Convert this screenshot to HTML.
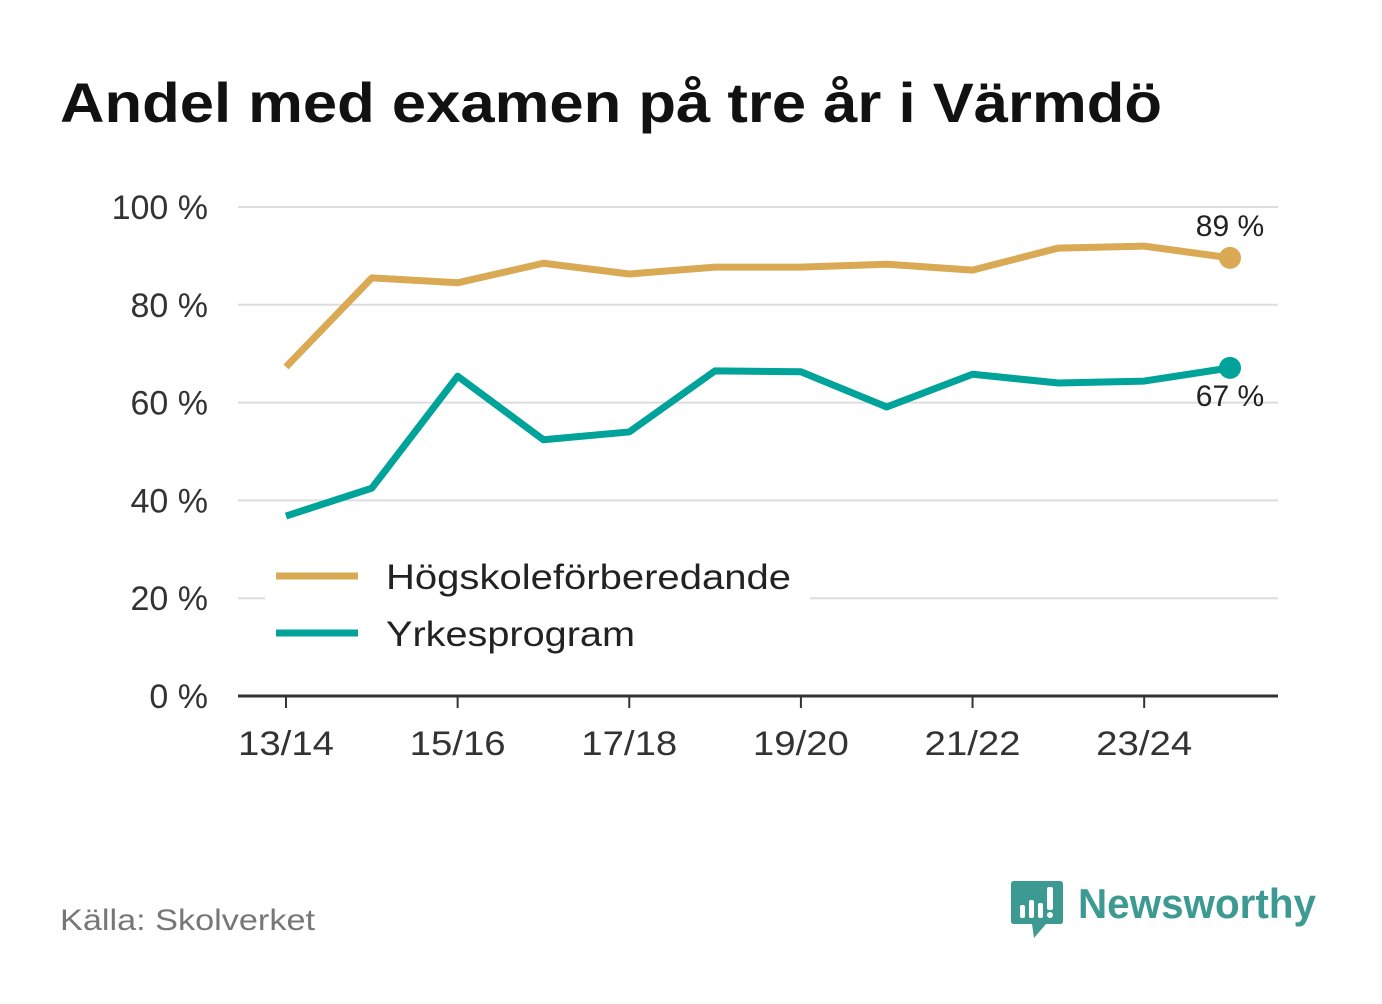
<!DOCTYPE html>
<html><head><meta charset="utf-8"><style>
body{margin:0;width:1382px;height:999px;background:#fff;font-family:"Liberation Sans","DejaVu Sans",sans-serif;overflow:hidden}
</style></head><body>
<svg id="c" width="1382" height="999" xmlns="http://www.w3.org/2000/svg">
<text x="60" y="122" font-size="56" font-weight="bold" fill="#111" textLength="1102" lengthAdjust="spacingAndGlyphs">Andel med examen på tre år i Värmdö</text>
<g id="grid"></g><g id="lines"></g>
<g>
<rect x="265" y="550" width="545" height="110" fill="#fff"/>
<line x1="276" y1="576" x2="358" y2="576" stroke="#d9a954" stroke-width="7"/>
<text x="386" y="589" font-size="35" fill="#222" textLength="405" lengthAdjust="spacingAndGlyphs">Högskoleförberedande</text>
<line x1="276" y1="633" x2="358" y2="633" stroke="#00a399" stroke-width="7"/>
<text x="386" y="646" font-size="35" fill="#222" textLength="249" lengthAdjust="spacingAndGlyphs">Yrkesprogram</text>
</g>
<text x="60" y="930" font-size="30" fill="#777" textLength="255" lengthAdjust="spacingAndGlyphs">Källa: Skolverket</text>
<g>
<path d="M1014 881 h46 q3 0 3 3 v37 q0 3 -3 3 h-14 l-12 14 l-2 -14 h-18 q-3 0 -3 -3 v-37 q0 -3 3 -3z" fill="#3d9a92"/>
<rect x="1020" y="905" width="5" height="13" rx="2" fill="#fff"/><rect x="1029" y="900" width="5" height="18" rx="2" fill="#fff"/><rect x="1038" y="903" width="5" height="15" rx="2" fill="#fff"/><rect x="1047" y="887" width="6" height="23" rx="2" fill="#fff"/><circle cx="1050" cy="915" r="3" fill="#fff"/>
<text x="1078" y="918" font-size="42" font-weight="bold" fill="#3d9a92" textLength="238" lengthAdjust="spacingAndGlyphs">Newsworthy</text>
</g>
</svg>
<script>
const categories=["13/14","14/15","15/16","16/17","17/18","18/19","19/20","20/21","21/22","22/23","23/24","24/25"];
const hogskole=[67.3,85.5,84.5,88.5,86.3,87.7,87.7,88.3,87.1,91.6,92.0,89.6];
const yrkes=[36.8,42.5,65.4,52.4,54.0,66.5,66.3,59.1,65.8,64.0,64.4,67.1];
const yTicks=[0,20,40,60,80,100];
const xTickLabels=["13/14","15/16","17/18","19/20","21/22","23/24"];
const endLabels=["89 %","67 %"];
const NS="http://www.w3.org/2000/svg";
const x=i=>286+i*(1230-286)/(categories.length-1);
const y=v=>696-v*4.89;
function mk(tag,attrs,parent){const e=document.createElementNS(NS,tag);for(const k in attrs)e.setAttribute(k,attrs[k]);parent.appendChild(e);return e;}
const grid=document.getElementById('grid'),lines=document.getElementById('lines');
yTicks.forEach(t=>{
  if(t>0){const l=mk('line',{x1:238,x2:1278,y1:y(t),y2:y(t),stroke:'#ddd','stroke-width':2},grid);
  
  }
  const tx=mk('text',{x:208,y:y(t)+12,'font-size':34,fill:'#333','text-anchor':'end'},grid);tx.textContent=t+' %';
  
  
});
const ax=mk('line',{x1:238,x2:1278,y1:696,y2:696,stroke:'#333','stroke-width':3},grid);


xTickLabels.forEach(lab=>{const i=categories.indexOf(lab);
  const tk=mk('line',{x1:x(i),x2:x(i),y1:696,y2:708,stroke:'#333','stroke-width':2},grid);
  
  
  const tx=mk('text',{x:x(i),y:755,'font-size':34,fill:'#333','text-anchor':'middle',textLength:96,lengthAdjust:'spacingAndGlyphs'},grid);tx.textContent=lab;
  
  
});
[[hogskole,'#d9a954','hogskole',-22],[yrkes,'#00a399','yrkes',38]].forEach(([d,c,n,dy],k)=>{
  const p=mk('polyline',{points:d.map((v,i)=>x(i)+','+y(v)).join(' '),fill:'none',stroke:c,'stroke-width':7,'stroke-linejoin':'round'},lines);
  
  
  const last=d.length-1;
  const dot=mk('circle',{cx:x(last),cy:y(d[last]),r:11,fill:c},lines);
  
  
  const t=mk('text',{x:x(last),y:y(d[last])+dy,'font-size':30,fill:'#222','text-anchor':'middle'},lines);t.textContent=endLabels[k];
  
  
});
</script>
</body></html>
